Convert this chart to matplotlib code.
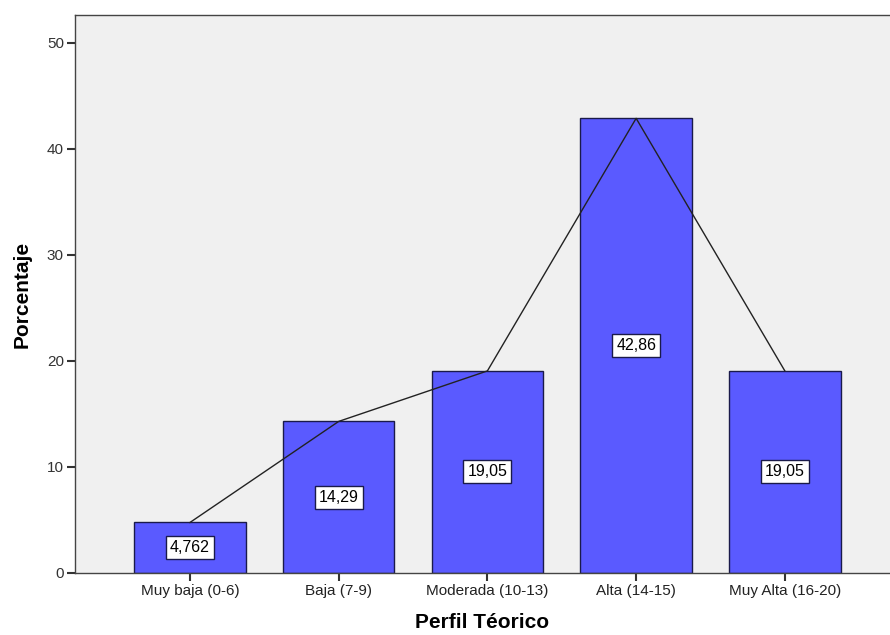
import numpy as np
import matplotlib
matplotlib.use("Agg")
import matplotlib.pyplot as plt

plt.rcParams['font.family'] = ['Liberation Sans', 'DejaVu Sans']

categories = ['Muy baja (0-6)', 'Baja (7-9)', 'Moderada (10-13)', 'Alta (14-15)', 'Muy Alta (16-20)']
values = [4.762, 14.29, 19.05, 42.86, 19.05]
value_labels = ['4,762', '14,29', '19,05', '42,86', '19,05']
y_ticks = [0, 10, 20, 30, 40, 50]

fig = plt.figure(figsize=(8.9, 6.35), dpi=100)
ax = fig.add_axes([75 / 890, 1 - 573 / 635, 815 / 890, 558 / 635])
ax.set_facecolor('#f0f0f0')

x = np.arange(len(categories))
ax.bar(x, values, width=0.75, color='#5a5aff', edgecolor='#1a1a4a', linewidth=1, zorder=2)
ax.plot(x, values, color='#222222', linewidth=1, zorder=3)

# value boxes at half bar height
for xi, v, lab in zip(x, values, value_labels):
    ax.text(xi, v / 2, lab, ha='center', va='center', fontsize=11.5, zorder=4,
            bbox=dict(boxstyle='square,pad=0.25', facecolor='white', edgecolor='#1a1a4a', linewidth=1))

ax.set_xlim(-0.773, 4.707)
ax.set_ylim(0, 52.6)
ax.set_xticks(x)
ax.set_xticklabels(categories, fontsize=11, color='#222222')
ax.set_yticks(y_ticks)
ax.set_yticklabels([str(t) for t in y_ticks], fontsize=11, color='#333333')
ax.tick_params(length=6, width=1.5, color='#333333', pad=2)

for side in ['left', 'bottom', 'top']:
    ax.spines[side].set_color('#444444')
    ax.spines[side].set_linewidth(1)
ax.spines['right'].set_visible(False)

ax.set_xlabel('Perfil Téorico', fontsize=15, fontweight='bold', labelpad=11)
ax.set_ylabel('Porcentaje', fontsize=15, fontweight='bold', labelpad=11)

fig.savefig('out.png', dpi=100)
